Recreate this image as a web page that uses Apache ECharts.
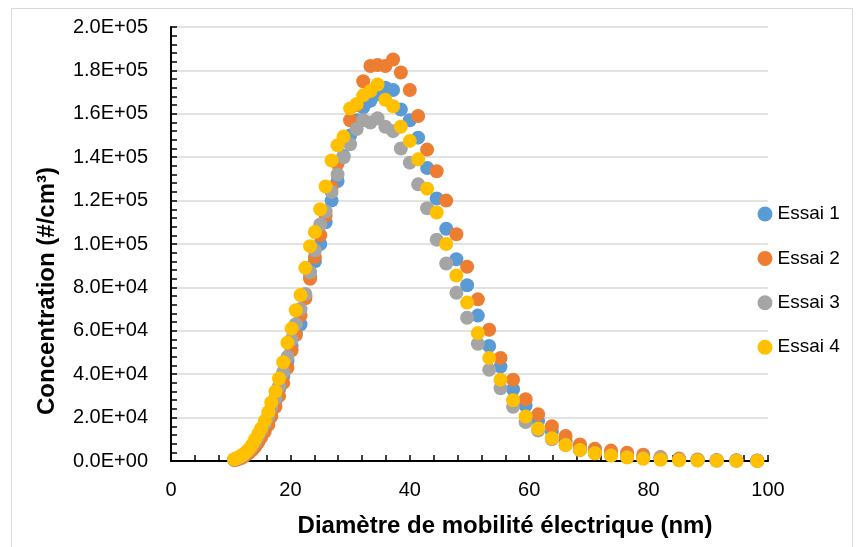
<!DOCTYPE html>
<html>
<head>
<meta charset="utf-8">
<script src="https://cdn.jsdelivr.net/npm/echarts@6/dist/echarts.min.js"></script>
<style>
html,body{margin:0;padding:0;background:#fff;}
#chart{width:863px;height:547px;}
</style>
</head>
<body>
<div id="chart"></div>
<script>
// Mobility diameter bins (nm)
var diameters = [10.6, 10.9, 11.3, 11.8, 12.2, 12.6, 13.1, 13.6, 14.1, 14.6,
  15.1, 15.7, 16.3, 16.8, 17.5, 18.1, 18.8, 19.5, 20.2, 20.9,
  21.7, 22.5, 23.3, 24.1, 25.0, 25.9, 26.9, 27.9, 28.9, 30.0,
  31.1, 32.2, 33.4, 34.6, 35.9, 37.2, 38.5, 40.0, 41.4, 42.9,
  44.5, 46.1, 47.8, 49.6, 51.4, 53.3, 55.2, 57.3, 59.4, 61.5,
  63.8, 66.1, 68.5, 71.0, 73.7, 76.4, 79.1, 82.0, 85.1, 88.2,
  91.4, 94.7, 98.2];

var essai1 = [600, 900, 1300, 1900, 2600, 3500, 4700, 6200, 8000, 10200,
  12800, 16000, 19500, 23500, 28000, 33000, 39000, 46000, 53000, 59000,
  63000, 76000, 85000, 92000, 100000, 110000, 120000, 129000, 140500, 150000,
  157000, 163000, 166000, 169000, 172000, 171000, 162000, 157000, 149000, 135000,
  121000, 107000, 93000, 81000, 67000, 53000, 43500, 33000, 25500, 18500,
  13500, 9000, 6000, 5400, 3100, 2300, 1600, 1100, 700, 400,
  300, 200, 100];

var essai2 = [400, 600, 900, 1400, 2000, 2800, 3800, 5000, 6600, 8500,
  10800, 13500, 16700, 20500, 25000, 30000, 36000, 43000, 51000, 58000,
  67000, 75000, 84000, 94000, 104000, 113000, 126000, 137000, 148000, 157000,
  164000, 175000, 182000, 182500, 182000, 185000, 179000, 171000, 159000, 143500,
  133500, 120000, 104500, 89500, 74500, 60500, 47500, 37500, 28500, 21500,
  16000, 11500, 7600, 5600, 4800, 3800, 2900, 1800, 1100, 700,
  400, 300, 200];

var essai3 = [700, 1000, 1500, 2100, 2900, 3900, 5200, 6800, 8800, 11200,
  14000, 17000, 20500, 24500, 29000, 34500, 41000, 48000, 56000, 63000,
  70000, 77000, 87000, 97000, 109000, 115000, 124000, 132000, 140000, 146000,
  153000, 157000, 156000, 158000, 154000, 152000, 144000, 137500, 127500, 116500,
  102000, 91000, 77500, 66000, 54000, 42000, 33500, 25000, 18000, 14000,
  10000, 7400, 5000, 3600, 2600, 1800, 1400, 1500, 600, 400,
  200, 100, 50];

var essai4 = [800, 1200, 1700, 2400, 3200, 4200, 5600, 7500, 10000, 12500,
  15000, 18500, 22500, 27000, 32000, 38000, 45500, 54500, 61000, 69500,
  76500, 89000, 99000, 105500, 116000, 126500, 138500, 145500, 149500, 162500,
  164500, 168500, 170500, 173500, 166500, 163500, 154000, 147500, 139000, 125500,
  114500, 100000, 85500, 73000, 59000, 47500, 37500, 28000, 20500, 15000,
  10500, 7400, 5100, 3600, 2500, 1600, 1000, 600, 300, 200,
  100, 50, 30];

var seriesNames = ['Essai 1', 'Essai 2', 'Essai 3', 'Essai 4'];
var seriesColors = ['#5B9BD5', '#ED7D31', '#A5A5A5', '#FFC000'];
var seriesValues = [essai1, essai2, essai3, essai4];

function pairs(xs, ys) {
  var out = [];
  for (var i = 0; i < xs.length; i++) out.push([xs[i], ys[i]]);
  return out;
}

function sci(v) {
  if (v === 0) return '0.0E+00';
  var e = Math.floor(Math.log10(v) + 1e-9);
  var m = v / Math.pow(10, e);
  return m.toFixed(1) + 'E+' + (e < 10 ? '0' + e : e);
}

var font = '"Liberation Sans", Arial, sans-serif';

var chart = echarts.init(document.getElementById('chart'), null, {renderer: 'canvas'});
chart.setOption({
  animation: false,
  backgroundColor: '#ffffff',
  textStyle: {fontFamily: font},
  graphic: [{
    type: 'rect',
    shape: {x: 11.5, y: 8.5, width: 841, height: 560},
    style: {fill: 'none', stroke: '#d9d9d9', lineWidth: 1},
    silent: true, z: -1
  }],
  grid: {left: 171, right: 95, top: 27, bottom: 86, containLabel: false},
  legend: {
    orient: 'vertical',
    left: 752.5,
    top: 199,
    itemWidth: 15,
    itemHeight: 15,
    itemGap: 24.4,
    icon: 'circle',
    data: seriesNames,
    textStyle: {fontSize: 19, color: '#000', fontFamily: font, lineHeight: 20}
  },
  xAxis: {
    type: 'value',
    min: 0, max: 100, interval: 20,
    name: 'Diamètre de mobilité électrique (nm)',
    nameLocation: 'middle',
    nameGap: 53,
    nameTextStyle: {fontSize: 24, fontWeight: 'bold', color: '#000', fontFamily: font, padding: [0, 0, 0, 71]},
    axisLine: {onZero: false, lineStyle: {color: '#000', width: 2}},
    axisTick: {show: true, inside: true, length: 6, lineStyle: {color: '#000', width: 1.5}},
    minorTick: {show: true, splitNumber: 5, length: 6, lineStyle: {color: '#000', width: 1.5}},
    axisLabel: {fontSize: 20, color: '#000', margin: 19, fontFamily: font},
    splitLine: {show: false}
  },
  yAxis: {
    type: 'value',
    min: 0, max: 200000, interval: 20000,
    name: 'Concentration (#/cm³)',
    nameLocation: 'middle',
    nameGap: 112,
    nameTextStyle: {fontSize: 24, fontWeight: 'bold', color: '#000', fontFamily: font, padding: [0, 94, 0, 0]},
    axisLine: {show: true, lineStyle: {color: '#000', width: 2}},
    axisTick: {show: true, inside: true, length: 6, lineStyle: {color: '#000', width: 1.5}},
    minorTick: {show: true, splitNumber: 5, length: 6, lineStyle: {color: '#000', width: 1.5}},
    axisLabel: {fontSize: 20, color: '#000', margin: 23, formatter: sci, fontFamily: font},
    splitLine: {show: true, lineStyle: {color: '#d9d9d9', width: 1.5}}
  },
  series: seriesNames.map(function (n, k) {
    return {
      name: n,
      type: 'scatter',
      symbol: 'circle',
      symbolSize: 14,
      itemStyle: {color: seriesColors[k], opacity: 1},
      data: pairs(diameters, seriesValues[k]),
      z: 2 + k
    };
  })
});
</script>
</body>
</html>
